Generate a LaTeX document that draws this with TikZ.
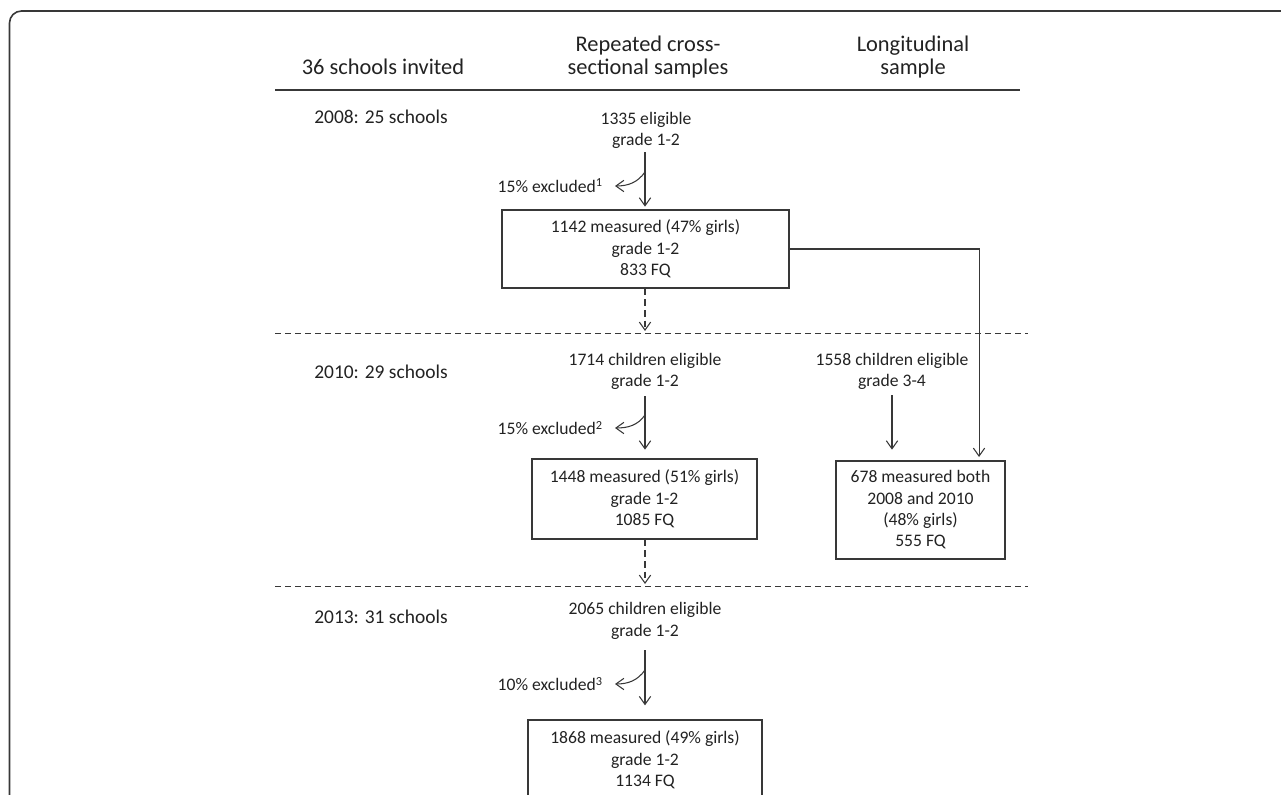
\documentclass[tikz,border=0pt]{standalone}
\usepackage{fontspec}
\setmainfont{Carlito}
\usetikzlibrary{arrows.meta,calc}
\definecolor{txt}{HTML}{222222}
\definecolor{ln}{HTML}{383838}
\tikzset{
  lbl/.style={inner sep=0pt, align=center, text=txt, font=\fontsize{13.2}{16}\selectfont},
  hdr/.style={lbl, font=\fontsize{16.8}{17.5}\selectfont},
  yr/.style={lbl, font=\fontsize{14.6}{17}\selectfont},
  boxn/.style={lbl, draw=ln, line width=1pt},
  arr/.style={draw=ln, line width=0.8pt, -{Straight Barb[length=6pt,width=8.5pt]}},
  darr/.style={arr, dash pattern=on 5pt off 3pt},
  sep/.style={draw=ln, line width=0.75pt, dash pattern=on 4.5pt off 3pt},
}
\begin{document}
\begin{tikzpicture}[x=0.75pt,y=-0.75pt]
\useasboundingbox (0,0) rectangle (1281,795);
\clip (0,0) rectangle (1281,795);
% outer frame
\draw[ln, line width=1.2pt, rounded corners=9pt] (9.5,11) rectangle (1320,830);
% header
\node[hdr, anchor=base] (h1) at (383,75) {36 schools invited};
\node[hdr] (h2) at (648,57) {Repeated cross-\\sectional samples};
\node[hdr] (h3) at (913,57) {Longitudinal\\sample};
\draw[ln, line width=1.1pt] (275,90) -- (1020,90);
\draw[sep] (275,333) -- (1028,333);
\draw[sep] (275,586) -- (1028,586);
% row labels
\node[yr, anchor=base west] (y1) at (314,124) {2008: 25 schools};
\node[yr, anchor=base west] (y2) at (314,378) {2010: 29 schools};
\node[yr, anchor=base west] (y3) at (314,623) {2013: 31 schools};
% 2008
\node[lbl] (e1) at (646,130.5) {1335 eligible\\grade 1-2};
\node[boxn, minimum width=215.25pt, minimum height=58.5pt] (b1) at (645.5,249) {1142 measured (47\% girls)\\grade 1-2\\833 FQ};
\node[lbl, anchor=east] (x1) at (603,186) {15\% excluded\textsuperscript{1}};
\coordinate (c1) at (645,172);
\draw[arr, shorten <=2.5pt, shorten >=2pt] (c1 |- e1.south) -- (c1 |- b1.north);
\draw[arr] (c1) to[out=-125,in=0] ([xshift=9pt]x1.east);
\draw[darr, shorten >=1.5pt] (c1 |- b1.south) -- (c1 |- 0,333);
% 2010
\node[lbl] (e2) at (645,371.5) {1714 children eligible\\grade 1-2};
\node[lbl] (e3) at (892,371.5) {1558 children eligible\\grade 3-4};
\node[boxn, minimum width=168.75pt, minimum height=60pt] (b2) at (644.5,499) {1448 measured (51\% girls)\\grade 1-2\\1085 FQ};
\node[boxn, minimum width=126.75pt, minimum height=73.5pt] (b3) at (920.5,510) {678 measured both\\2008 and 2010\\(48\% girls)\\555 FQ};
\node[lbl, anchor=east] (x2) at (603,428) {15\% excluded\textsuperscript{2}};
\coordinate (c2) at (645,415);
\draw[arr, shorten <=4.5pt, shorten >=6.5pt] (c2 |- e2.south) -- (c2 |- b2.north);
\draw[arr] (c2) to[out=-125,in=0] ([xshift=9pt]x2.east);
\draw[arr, shorten <=4pt, shorten >=8pt] (e3.south) -- (e3.south |- b3.north);
\draw[arr, shorten >=2.5pt] (b1.east) -| ([xshift=43.9pt]b3.north);
\draw[darr, shorten >=1.5pt] (c2 |- b2.south) -- (c2 |- 0,586);
% 2013
\node[lbl] (e4) at (645,621) {2065 children eligible\\grade 1-2};
\node[boxn, minimum width=175.5pt, minimum height=60pt] (b4) at (645,760) {1868 measured (49\% girls)\\grade 1-2\\1134 FQ};
\node[lbl, anchor=east] (x3) at (603,684) {10\% excluded\textsuperscript{3}};
\coordinate (c3) at (645,670);
\draw[arr, shorten <=8pt, shorten >=10.5pt] (c3 |- e4.south) -- (c3 |- b4.north);
\draw[arr] (c3) to[out=-125,in=0] ([xshift=9pt]x3.east);
\end{tikzpicture}
\end{document}
